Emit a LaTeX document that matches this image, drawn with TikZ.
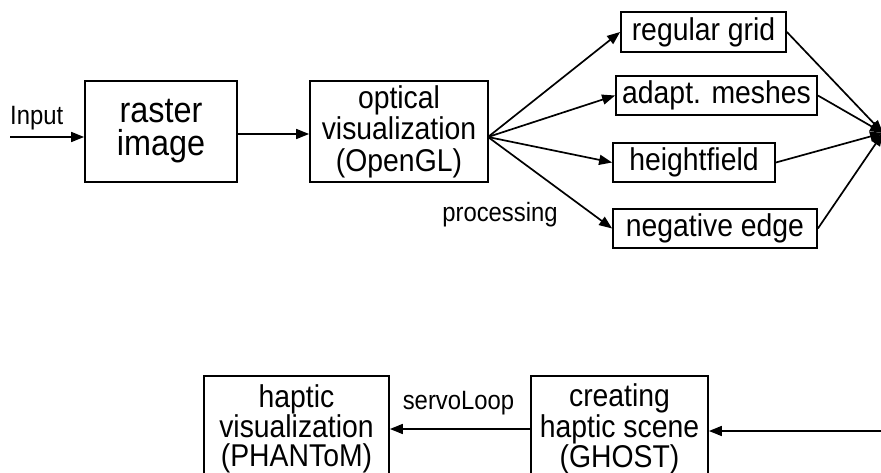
\documentclass[tikz,border=0pt]{standalone}
\usepackage{fontspec}
\setmainfont[FakeStretch=0.9]{Liberation Sans}
\usetikzlibrary{arrows.meta}
\begin{document}
\begin{tikzpicture}[x=1pt,y=-1pt,
  box/.style={draw,line width=1.8pt,inner sep=0pt,align=center,font=\fontsize{31.5}{31.5}\selectfont},
  lbl/.style={inner sep=0pt,font=\fontsize{26.5}{28}\selectfont},
  conn/.style={line width=1.7pt,-{Triangle[length=13pt,width=10pt]}},
  ]
\useasboundingbox (0,0) rectangle (881,473);
\clip (0,0) rectangle (881,473);
\fill[white] (0,0) rectangle (881,473);
% top row
\node[box,minimum width=152pt,minimum height=101pt,font=\fontsize{36}{33}\selectfont] (raster) at (161,131.5) {raster\\image};
\node[box,minimum width=178pt,minimum height=101pt] (optical) at (399,131.5) {optical\\visualization\\(OpenGL)};
\node[box,minimum width=165pt,minimum height=40pt] (regular) at (703.5,32) {regular grid};
\node[box,minimum width=201pt,minimum height=39pt] (adapt) at (716.5,95.5) {adapt. meshes};
\node[box,minimum width=162pt,minimum height=39pt] (height) at (694,162.5) {heightfield};
\node[box,minimum width=204pt,minimum height=39pt] (negative) at (715,228.5) {negative edge};
\node[lbl,anchor=west] (inputlbl) at (10,118) {Input};
\node[lbl] (proclbl) at (500,215) {processing};
\coordinate (inp) at (10,137);
\coordinate (fan) at (488,137);
\coordinate (sink) at (883,133);
\draw[conn] (inp) -- (inp -| raster.west);
\draw[conn] ([yshift=-2.5pt]raster.east) -- ([yshift=-2.5pt]optical.west);
\draw[conn] (fan) -- (regular.west);
\draw[conn] (fan) -- (adapt.west);
\draw[conn] (fan) -- (height.west);
\draw[conn] (fan) -- (negative.west);
\draw[conn] (regular.east) -- (sink);
\draw[conn] (adapt.east) -- (sink);
\draw[conn] (height.east) -- (sink);
\draw[conn] (negative.east) -- (sink);
% bottom row
\node[box,minimum width=185pt,minimum height=106pt,font=\fontsize{31.5}{29}\selectfont] (haptic) at (296.5,429) {haptic\\visualization\\(PHANToM)};
\node[box,minimum width=177pt,minimum height=106pt,font=\fontsize{31.5}{29}\selectfont] (creating) at (619.5,429) {creating\\haptic scene\\(GHOST)};
\node[lbl] (servolbl) at (458.5,403) {servoLoop};
\coordinate (src) at (881,431);
\draw[conn] (src) -- (src -| creating.east);
\draw[conn] (creating.west) -- (haptic.east);
\end{tikzpicture}
\end{document}
